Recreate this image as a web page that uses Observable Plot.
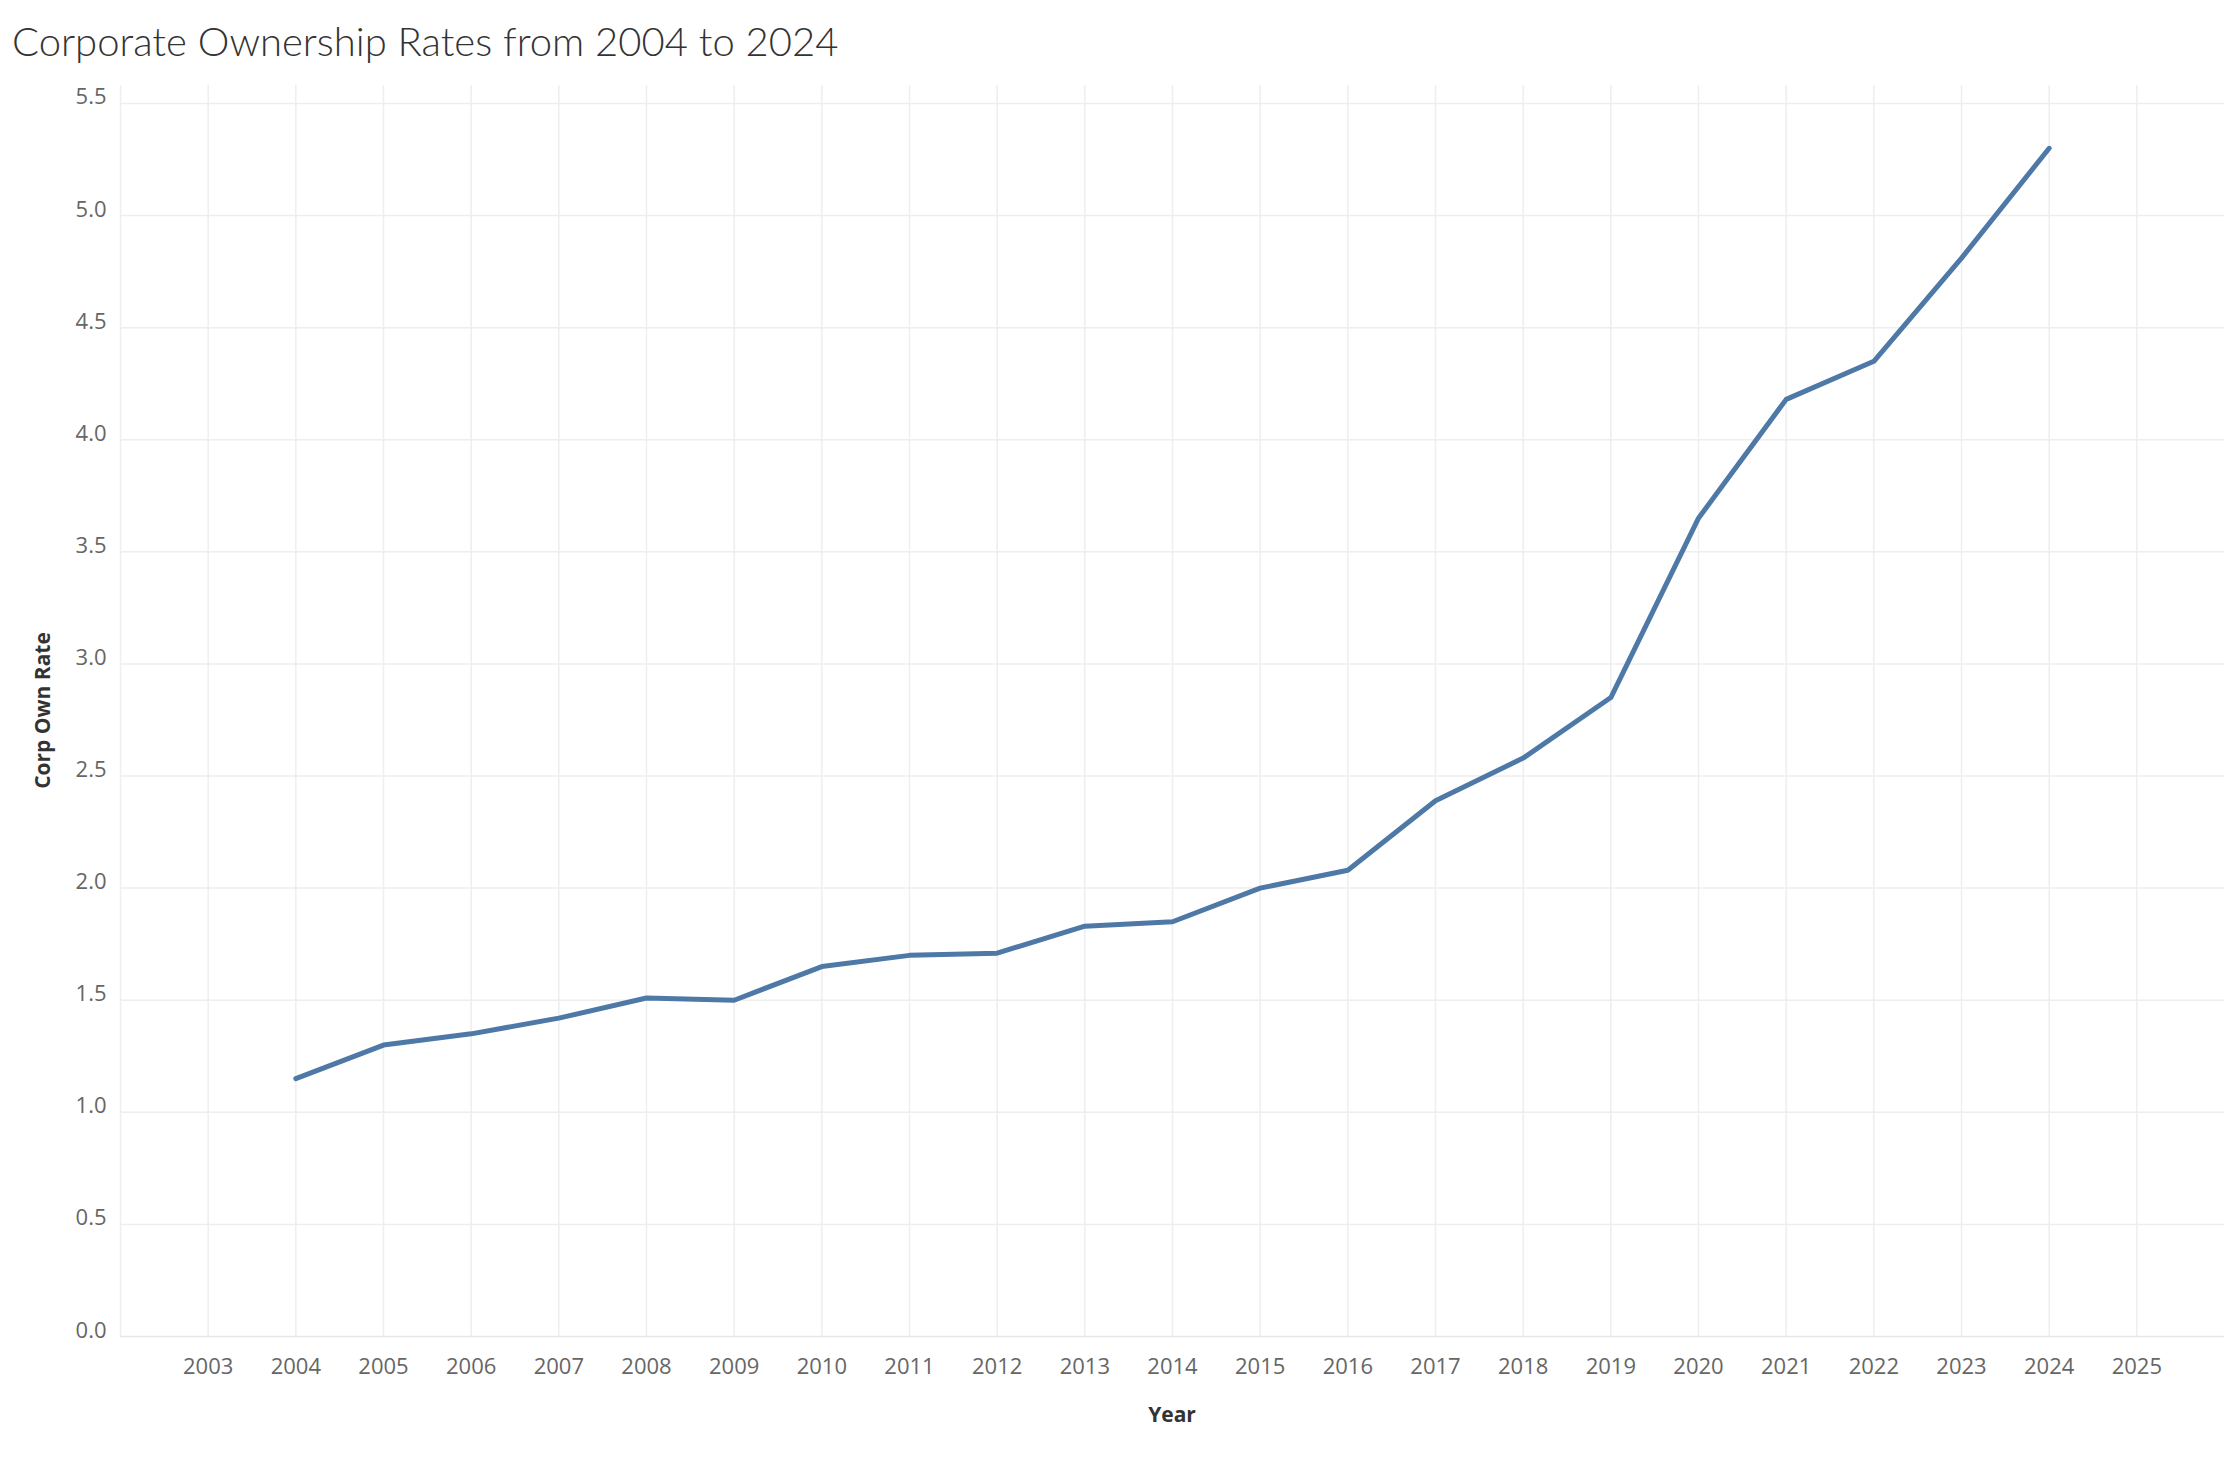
<!DOCTYPE html>
<html><head><meta charset="utf-8">
<script src="https://cdn.jsdelivr.net/npm/d3@7"></script>
<script src="https://cdn.jsdelivr.net/npm/@observablehq/plot@0.6"></script>
<style>
body{margin:0;background:#fff;font-family:"Open Sans",sans-serif}
#title{height:70px;font-family:Lato,"Open Sans",sans-serif;font-weight:300;font-size:40px;color:#333;padding-left:12px;line-height:82px}
</style></head><body>
<div id="title">Corporate Ownership Rates from 2004 to 2024</div>
<div id="chart"></div>
<script>
var years = [2004,2005,2006,2007,2008,2009,2010,2011,2012,2013,2014,2015,2016,2017,2018,2019,2020,2021,2022,2023,2024]
var rates = [1.15,1.30,1.35,1.42,1.51,1.50,1.65,1.70,1.71,1.83,1.85,2.00,2.08,2.39,2.58,2.85,3.65,4.18,4.35,4.81,5.30]
var yearTicks = d3.range(2003, 2026)
var rateTicks = d3.range(0, 5.51, 0.5)

var data = years.map((y, i) => ({year: y, rate: rates[i]}))

var chart = Plot.plot({
  width: 2224,
  height: 1394,
  marginLeft: 120,
  marginRight: 0,
  marginTop: 15,
  marginBottom: 128,
  style: {fontSize: 22, fontFamily: "Open Sans, sans-serif", color: "#666"},
  x: {domain: [2002, 2026], label: null},
  y: {domain: [0, 5.58], label: null},
  marks: [
    Plot.ruleX(yearTicks.concat([2002]), {x: d => d, stroke: "#eee", strokeWidth: 1.5}),
    Plot.ruleY(rateTicks.slice(1), {y: d => d, stroke: "#eee", strokeWidth: 1.5}),
    Plot.ruleY([0], {stroke: "#e6e6e6", strokeWidth: 1.5}),
    Plot.axisX({ticks: yearTicks, tickFormat: d => String(d), tickSize: 0, tickPadding: 22, fill: "#666"}),
    Plot.axisY({ticks: rateTicks, tickFormat: d3.format(".1f"), tickSize: 0, tickPadding: 14, dy: -6, fill: "#666"}),
    Plot.line(data, {x: "year", y: "rate", stroke: "#4e79a7", strokeWidth: 5})
  ]
})

// axis titles
var svg = d3.select(chart)
svg.append("text").text("Year")
  .attr("x", (120 + 2224) / 2).attr("y", 1352)
  .attr("text-anchor", "middle").attr("font-size", 21).attr("font-weight", "bold").attr("fill", "#333")
svg.append("text").text("Corp Own Rate")
  .attr("transform", "translate(50," + (15 + 1266) / 2 + ") rotate(-90)")
  .attr("text-anchor", "middle").attr("font-size", 21).attr("font-weight", "bold").attr("fill", "#333")

d3.select('#chart').append(() => chart)
</script>
</body></html>
